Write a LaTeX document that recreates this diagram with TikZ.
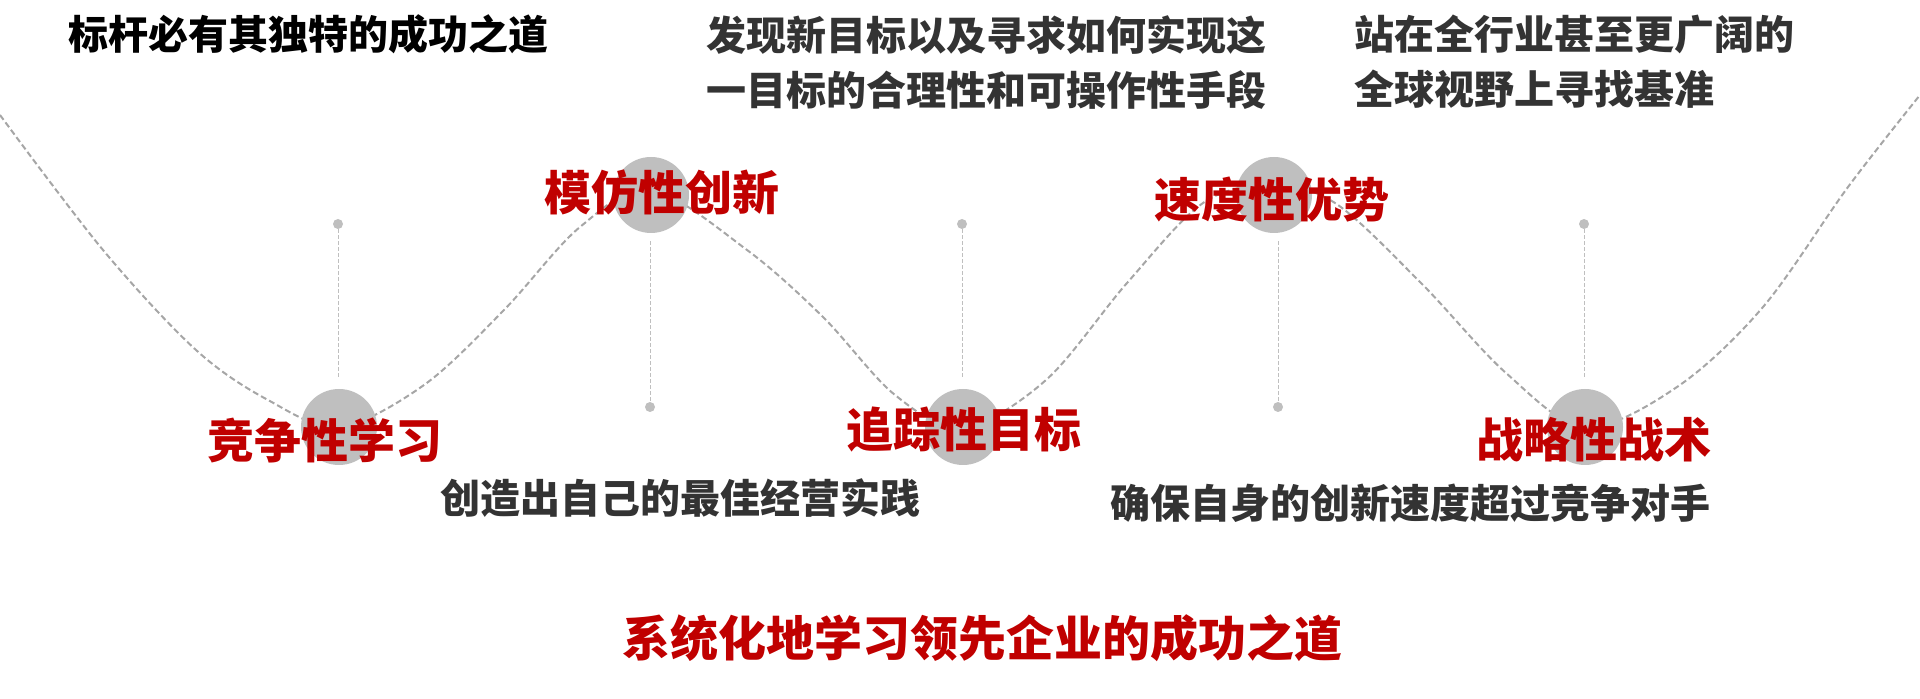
\documentclass[tikz,border=0pt]{standalone}
\usepackage{fontspec}
\setmainfont{Noto Sans CJK SC}
\definecolor{myred}{HTML}{C00000}
\definecolor{txtgray}{HTML}{333333}
\definecolor{circfill}{HTML}{BFBFBF}
\definecolor{curvegray}{HTML}{A6A6A6}
\definecolor{linegray}{HTML}{BFBFBF}
\tikzset{
  wave/.style={draw=curvegray, line width=1pt, dash pattern=on 3pt off 1.6pt},
  vline/.style={draw=linegray, line width=0.5pt, dash pattern=on 2pt off 1pt},
  bigcirc/.style={circle, fill=circfill, minimum size=38pt, inner sep=0pt},
  smalldot/.style={circle, fill=circfill, minimum size=5pt, inner sep=0pt},
  redlabel/.style={text=myred, font=\fontsize{23.5}{28}\selectfont\bfseries, inner sep=0pt},
  desc/.style={text=txtgray, font=\fontsize{20}{27.5}\selectfont\bfseries, inner sep=0pt, align=left},
}
\begin{document}
\begin{tikzpicture}[x=0.5pt,y=-0.5pt]
\useasboundingbox (0,0) rectangle (1920,699);
% wave curve
\draw[wave] plot[smooth, tension=0.55] coordinates {
 (0,115) (103,250) (196,350) (268,400) (339,427) (424,385) (504,310) (580,227)
 (651,190) (747,250) (823,317) (895,395) (963,428) (1046,380) (1127,283) (1203,203)
 (1270,185) (1335,203) (1421,283) (1506,373) (1585,427) (1677,387) (1763,307)
 (1848,187) (1920,95)};
% circles
\node[bigcirc] (c1) at (339,427) {};
\node[bigcirc] (c2) at (651,195) {};
\node[bigcirc] (c3) at (963,427) {};
\node[bigcirc] (c4) at (1274,195) {};
\node[bigcirc] (c5) at (1585,427) {};
% dots
\node[smalldot] (d1) at (338,224) {};
\node[smalldot] (d2) at (650,407) {};
\node[smalldot] (d3) at (962,224) {};
\node[smalldot] (d4) at (1278,407) {};
\node[smalldot] (d5) at (1584,224) {};
% vertical dashed lines
\draw[vline] (d1.south) -- ([yshift=6pt]d1 |- c1.north);
\draw[vline] ([yshift=-4pt]d2 |- c2.south) -- (d2.north);
\draw[vline] (d3.south) -- ([yshift=6pt]d3 |- c3.north);
\draw[vline] ([yshift=-4pt]d4 |- c4.south) -- (d4.north);
\draw[vline] (d5.south) -- ([yshift=6pt]d5 |- c5.north);
% red labels
\node[redlabel] (l1) at (325,440) {竞争性学习};
\node[redlabel] (l2) at (662,192) {模仿性创新};
\node[redlabel] (l3) at (964,430) {追踪性目标};
\node[redlabel] (l4) at (1272,200) {速度性优势};
\node[redlabel] (l5) at (1594,440) {战略性战术};
% texts
\node[desc, text=black, anchor=west] (title) at (68,34) {标杆必有其独特的成功之道};
\node[desc, anchor=west] (t2) at (706,63) {发现新目标以及寻求如何实现这\\一目标的合理性和可操作性手段};
\node[desc, anchor=west] (t4) at (1354,62) {站在全行业甚至更广阔的\\全球视野上寻找基准};
\node[desc] (t1) at (680,498) {创造出自己的最佳经营实践};
\node[desc] (t3) at (1410,503) {确保自身的创新速度超过竞争对手};
\node[redlabel, font=\fontsize{24}{28}\selectfont\bfseries] (bottom) at (982,638) {系统化地学习领先企业的成功之道};
\end{tikzpicture}
\end{document}
